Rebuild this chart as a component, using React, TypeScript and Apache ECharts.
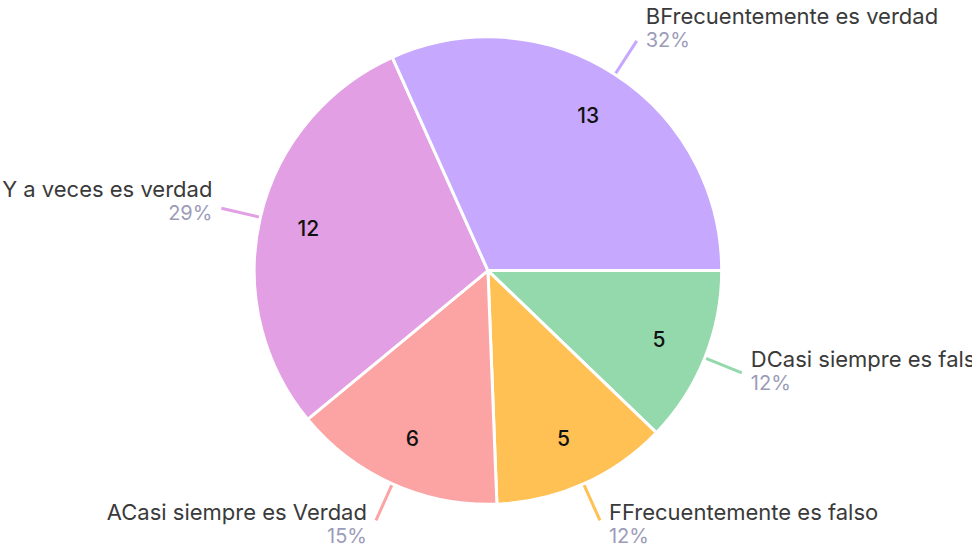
import React, { useEffect, useRef } from "react";
import * as echarts from "echarts";

const categories = [
  "DCasi siempre es falso",
  "FFrecuentemente es falso",
  "ACasi siempre es Verdad",
  "CA veces es falso Y a veces es verdad",
  "BFrecuentemente es verdad",
];
const values = [5, 5, 6, 12, 13];
const colors = ["#94D9AC", "#FFC153", "#FCA3A3", "#E29FE3", "#C6A8FE"];

const FONT = "Inter";

export default function App() {
  const ref = useRef<HTMLDivElement>(null);
  useEffect(() => {
    document.body.style.margin = "0";
    const chart = echarts.init(ref.current!, null, { renderer: "svg" });
    const data = categories.map((name, i) => ({
      name,
      value: values[i],
      itemStyle: { color: colors[i] },
      labelLine: { lineStyle: { color: colors[i] } },
    }));
    chart.setOption({
      animation: false,
      series: [
        {
          type: "pie",
          center: ["50.2%", "49.2%"],
          radius: "85%",
          startAngle: 0,
          clockwise: true,
          percentPrecision: 0,
          silent: true,
          itemStyle: { borderColor: "#ffffff", borderWidth: 3 },
          label: {
            show: true,
            position: "outside",
            overflow: "none",
            distanceToLabelLine: 9,
            fontFamily: FONT,
            formatter: "{n|{b}}\n{p|{d}%}",
            rich: {
              n: { fontFamily: FONT, fontSize: 22, color: "#3a3a3a", lineHeight: 24 },
              p: { fontFamily: FONT, fontSize: 20, color: "#9c9cb8", lineHeight: 24 },
            },
          },
          labelLine: { show: true, length: 40, length2: 0, smooth: false, lineStyle: { width: 3 } },
          labelLayout: (params: any) => {
            const pts = params.labelLinePoints;
            if (!pts || pts.length < 2) return {};
            const dx = pts[1][0] - pts[0][0];
            const dy = pts[1][1] - pts[0][1];
            const len = Math.sqrt(dx * dx + dy * dy) || 1;
            return { dy: -5 + 9 * (dy / len) };
          },
          data,
        },
        {
          type: "pie",
          center: ["50.2%", "49.2%"],
          radius: ["47%", "85%"],
          startAngle: 0,
          clockwise: true,
          silent: true,
          itemStyle: { color: "rgba(0,0,0,0)", borderWidth: 0 },
          label: {
            show: true,
            position: "inside",
            formatter: "{c}",
            fontFamily: FONT,
            fontSize: 21,
            fontWeight: 500,
            color: "#111111",
          },
          labelLine: { show: false },
          data: categories.map((name, i) => ({ name, value: values[i] })),
        },
      ],
    });
    return () => chart.dispose();
  }, []);
  return (
    <div
      ref={ref}
      style={{ position: "absolute", left: 0, top: 0, width: 972, height: 550 }}
    />
  );
}
